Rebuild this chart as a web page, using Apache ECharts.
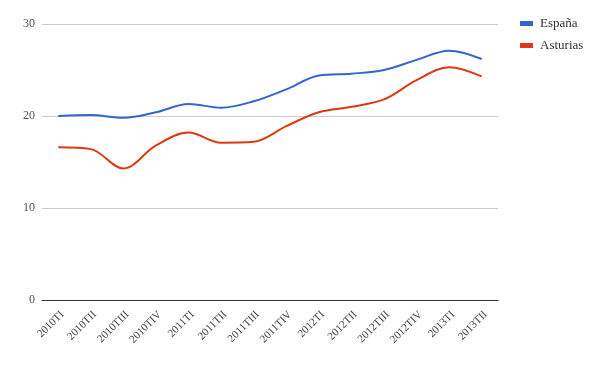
<!DOCTYPE html>
<html><head><meta charset="utf-8">
<script src="https://cdn.jsdelivr.net/npm/echarts@6/dist/echarts.min.js"></script>
<style>html,body{margin:0;padding:0;background:#fff}#c{width:600px;height:371px}</style>
</head><body><div id="c"></div>
<script>
const categories = ["2010TI","2010TII","2010TIII","2010TIV","2011TI","2011TII","2011TIII","2011TIV","2012TI","2012TII","2012TIII","2012TIV","2013TI","2013TII"];
const espana = [20.0,20.1,19.8,20.4,21.3,20.9,21.6,22.9,24.4,24.6,25.0,26.1,27.1,26.2];
const asturias = [16.6,16.4,14.3,16.8,18.2,17.1,17.2,18.9,20.4,21.0,21.8,23.9,25.3,24.3];
const yTicks = [0,10,20,30];

const chart = echarts.init(document.getElementById('c'));
const font = 'Liberation Serif';
chart.setOption({
  animation:false,
  grid:{left:42,right:102,top:24,bottom:71},
  legend:{
    orient:'vertical', left:520, top:17, itemGap:9, padding:0,
    itemWidth:13, itemHeight:5, icon:'rect',
    textStyle:{fontFamily:font,fontSize:13,color:'#333',padding:[0,0,0,2]},
    data:['España','Asturias']
  },
  xAxis:{
    type:'category', data:categories, boundaryGap:true,
    axisLine:{lineStyle:{color:'#333',width:1}},
    axisTick:{show:false},
    axisLabel:{rotate:45,interval:0,fontFamily:font,fontSize:11,color:'#444',margin:9,verticalAlign:'top'}
  },
  yAxis:{
    type:'value', min:yTicks[0], max:yTicks[yTicks.length-1], interval:10,
    axisLine:{show:false}, axisTick:{show:false},
    splitLine:{lineStyle:{color:'#ccc'}},
    axisLabel:{fontFamily:font,fontSize:12,color:'#555',margin:7}
  },
  series:[
    {name:'España',type:'line',data:espana,smooth:0.35,symbol:'none',
     lineStyle:{color:'#3366cc',width:2},itemStyle:{color:'#3366cc'}},
    {name:'Asturias',type:'line',data:asturias,smooth:0.35,symbol:'none',
     lineStyle:{color:'#dc3912',width:2},itemStyle:{color:'#dc3912'}}
  ]
});
</script></body></html>
